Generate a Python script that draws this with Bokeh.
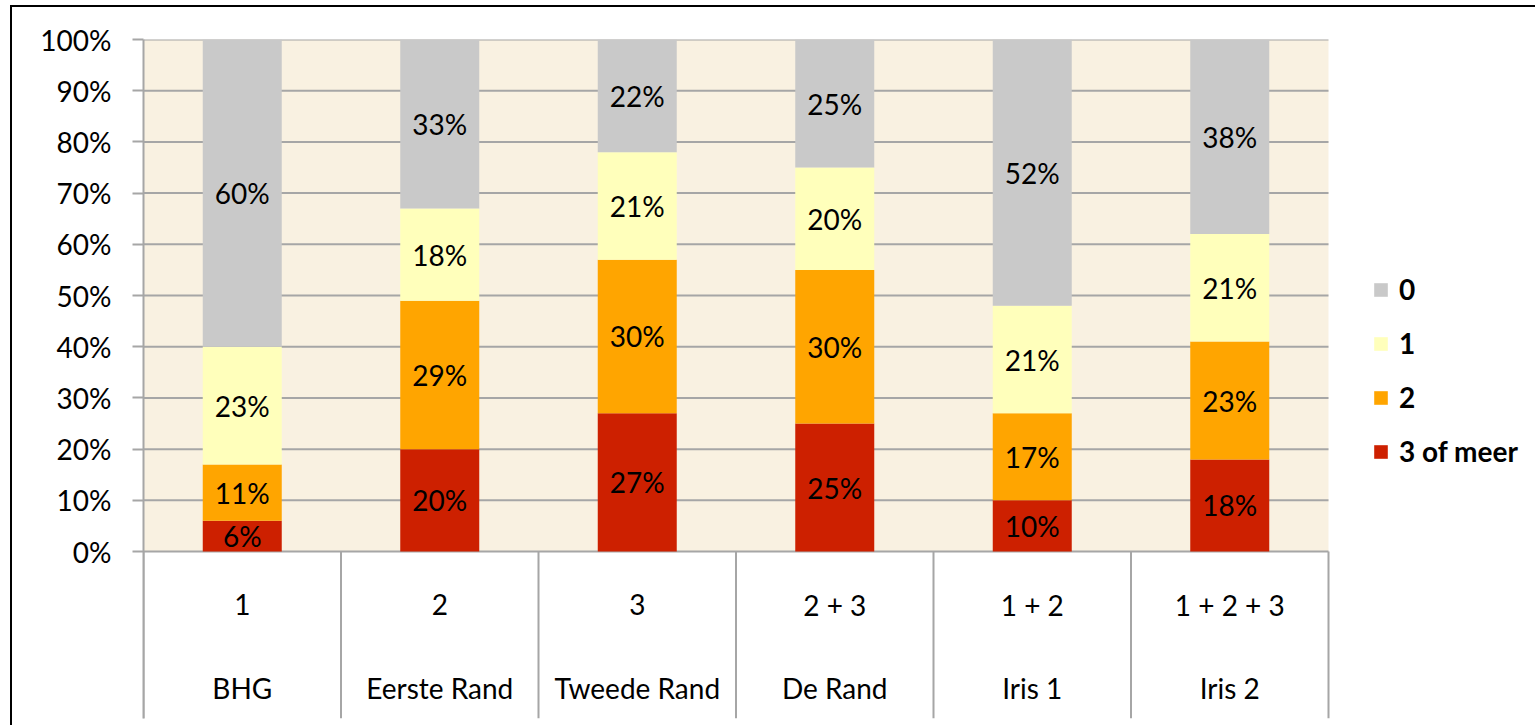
from bokeh.plotting import figure
from bokeh.models import ColumnDataSource, FixedTicker, Legend, LegendItem
from bokeh.core.properties import value
from bokeh.embed import file_html
from bokeh.resources import INLINE

# ---- data ----
groups = ["BHG", "Eerste Rand", "Tweede Rand", "De Rand", "Iris 1", "Iris 2"]
codes = ["1", "2", "3", "2 + 3", "1 + 2", "1 + 2 + 3"]
series = ["3 of meer", "2", "1", "0"]
v3 = [6, 20, 27, 25, 10, 18]     # 3 of meer
v2 = [11, 29, 30, 30, 17, 23]    # 2
v1 = [23, 18, 21, 20, 21, 21]    # 1
v0 = [60, 33, 22, 25, 52, 38]    # 0
yticks = [0, 10, 20, 30, 40, 50, 60, 70, 80, 90, 100]

colors = {"3 of meer": "#cd2000", "2": "#ffa500", "1": "#ffffbb", "0": "#c9c9c9"}
FONT = "Lato"
FS = "28px"
GRID = "#a6a6a6"
TABLE_BOTTOM = -32.6

n = len(groups)
xs = [i + 0.5 for i in range(n)]

W, H = 1525, 720
BL, BT, BB = 131, 32, 9
XMAX = (W - BL) / 197.5   # extra room on the right for the legend

src = ColumnDataSource(dict(x=xs, s3=v3, s2=v2, s1=v1, s0=v0))

p = figure(width=W, height=H, x_range=(0, XMAX), y_range=(TABLE_BOTTOM, 100),
           output_backend="svg", toolbar_location=None, x_axis_location=None,
           min_border_left=BL, min_border_right=0, min_border_top=BT, min_border_bottom=BB,
           background_fill_color="white", border_fill_color="white", outline_line_color=None)
p.xgrid.visible = False
p.ygrid.visible = False

# cream plot area
p.quad(left=[0], right=[n], bottom=[0], top=[100], fill_color="#f9f1e1", line_color=None)
# horizontal grid lines
p.segment(x0=[0] * len(yticks), y0=yticks, x1=[n] * len(yticks), y1=yticks,
          line_color=GRID, line_width=2)

rs = p.vbar_stack(["s3", "s2", "s1", "s0"], x="x", width=0.4, source=src,
                  color=[colors[s] for s in series], line_color=None)

# value labels
bottoms = [0] * n
lx, ly, lt = [], [], []
for vals in (v3, v2, v1, v0):
    for i in range(n):
        lx.append(xs[i])
        ly.append(bottoms[i] + vals[i] / 2)
        lt.append(f"{vals[i]}%")
        bottoms[i] += vals[i]
p.text(x=lx, y=ly, text=lt, text_align="center", text_baseline="middle",
       text_font=value(FONT), text_font_size=FS, text_color="black")

# table below the chart
tx = list(range(n + 1))
p.segment(x0=tx, y0=[TABLE_BOTTOM] * len(tx), x1=tx, y1=[0] * len(tx),
          line_color=GRID, line_width=2)
p.text(x=xs, y=[-10.4] * n, text=codes, text_align="center", text_baseline="middle",
       text_font=value(FONT), text_font_size=FS, text_color="black")
p.text(x=xs, y=[-26.6] * n, text=groups, text_align="center", text_baseline="middle",
       text_font=value(FONT), text_font_size=FS, text_color="black")

# y axis
p.yaxis.ticker = FixedTicker(ticks=yticks)
p.yaxis.major_label_overrides = {t: f"{t}%" for t in yticks}
p.yaxis.major_label_text_font = FONT
p.yaxis.major_label_text_font_size = FS
p.yaxis.major_label_text_color = "black"
p.yaxis.major_label_standoff = 21
p.yaxis.major_tick_in = 0
p.yaxis.major_tick_out = 11
p.yaxis.minor_tick_line_color = None
p.yaxis.axis_line_color = GRID
p.yaxis.axis_line_width = 2
p.yaxis.major_tick_line_color = GRID
p.yaxis.major_tick_line_width = 2

# legend, to the right of the plot area
items = [LegendItem(label=s, renderers=[rs[series.index(s)]]) for s in ["0", "1", "2", "3 of meer"]]
legend = Legend(items=items, location=(1229, 250), glyph_width=17, glyph_height=17,
                label_text_font=FONT, label_text_font_size=FS, label_text_font_style="bold",
                label_text_color="black",
                label_standoff=10, spacing=20, margin=0, padding=0,
                border_line_color=None, background_fill_alpha=0)
p.add_layout(legend, "center")

p.styles = {"border-left": "2px solid black", "border-top": "2px solid black",
            "margin-left": "10px", "margin-top": "5px"}

open("out.html", "w").write(file_html(p, INLINE))
